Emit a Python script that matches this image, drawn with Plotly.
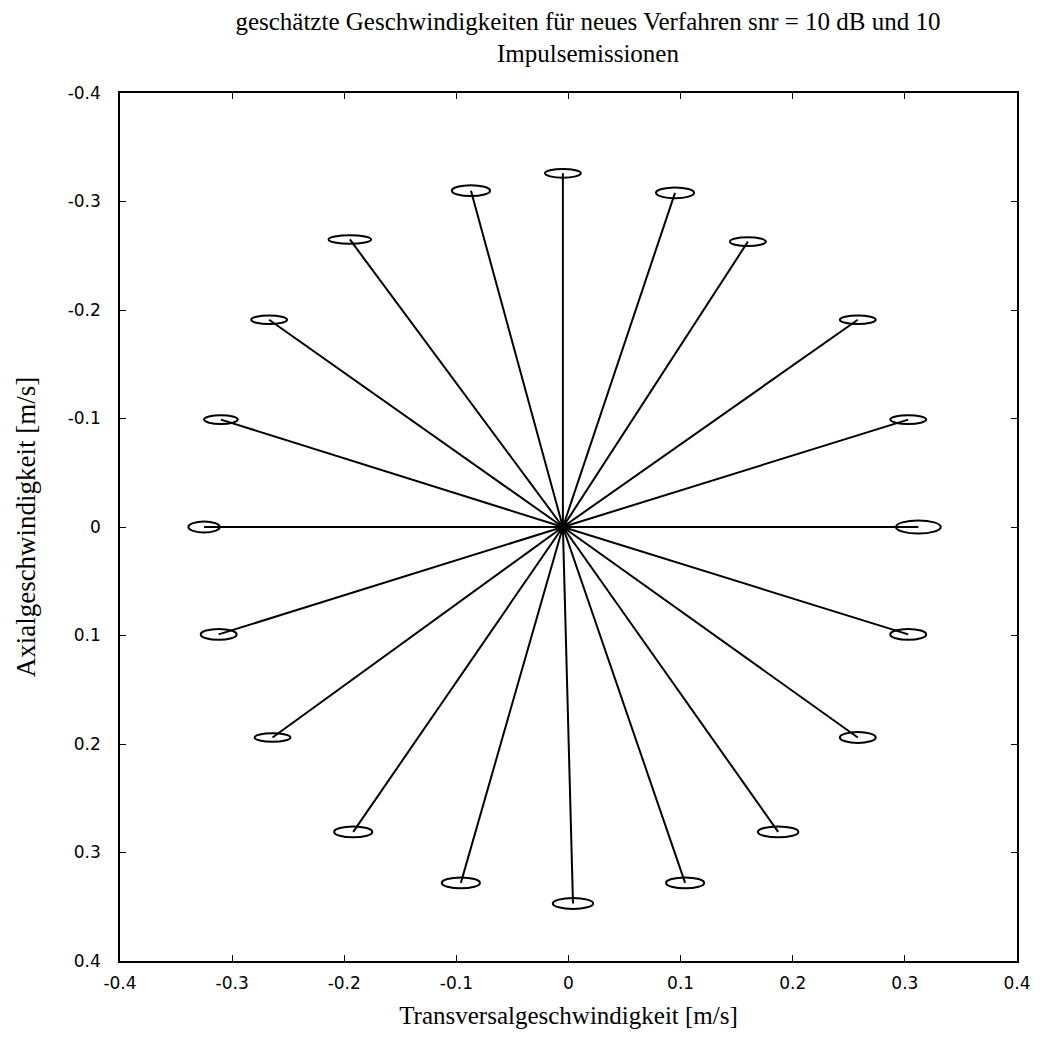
import plotly.graph_objects as go

# estimated end points of the velocity vectors [m/s]
end_x = [-0.005, 0.095, 0.160, 0.258, 0.303, 0.312, 0.303, 0.258, 0.187, 0.104,
         0.004, -0.096, -0.192, -0.264, -0.312, -0.325, -0.310, -0.267, -0.195, -0.087]
end_y = [-0.326, -0.308, -0.263, -0.191, -0.099, 0.000, 0.099, 0.194, 0.281, 0.328,
         0.347, 0.328, 0.281, 0.194, 0.099, 0.000, -0.099, -0.191, -0.265, -0.310]
# semi-axes of the scatter ellipses [m/s]
ell_a = [0.016, 0.017, 0.016, 0.016, 0.016, 0.020, 0.016, 0.016, 0.018, 0.017,
         0.018, 0.017, 0.017, 0.016, 0.016, 0.014, 0.015, 0.016, 0.019, 0.017]
ell_b = [0.004, 0.005, 0.004, 0.004, 0.004, 0.006, 0.005, 0.005, 0.005, 0.005,
         0.005, 0.005, 0.005, 0.004, 0.005, 0.005, 0.004, 0.004, 0.004, 0.005]
origin_x = -0.005
origin_y = 0.0

tick_vals = [-0.4, -0.3, -0.2, -0.1, 0, 0.1, 0.2, 0.3, 0.4]
tick_text = ["-0.4", "-0.3", "-0.2", "-0.1", "0", "0.1", "0.2", "0.3", "0.4"]

SERIF = "Liberation Serif, Times New Roman, serif"
SANS = "DejaVu Sans, Arial, sans-serif"

fig = go.Figure()
for ex, ey in zip(end_x, end_y):
    fig.add_trace(go.Scatter(x=[origin_x, ex], y=[origin_y, ey], mode="lines",
                             line=dict(color="black", width=2), showlegend=False,
                             hoverinfo="skip"))
fig.add_trace(go.Scatter(x=[origin_x], y=[origin_y], mode="markers",
                         marker=dict(color="black", size=11), showlegend=False))

for ex, ey, a, b in zip(end_x, end_y, ell_a, ell_b):
    fig.add_shape(type="circle", xref="x", yref="y",
                  x0=ex - a, x1=ex + a, y0=ey - b, y1=ey + b,
                  line=dict(color="black", width=2))

axis_common = dict(range=[-0.4, 0.4], tickvals=tick_vals, ticktext=tick_text,
                   showgrid=False, zeroline=False, showline=True, mirror="ticks",
                   linecolor="black", linewidth=1.5, ticks="inside", ticklen=6,
                   tickcolor="black",
                   tickfont=dict(family=SANS, size=17, color="black"))

fig.update_layout(
    width=1045, height=1043,
    paper_bgcolor="white", plot_bgcolor="white",
    margin=dict(l=112, r=36, t=85, b=90),
    title=dict(text="geschätzte Geschwindigkeiten für neues Verfahren snr = 10 dB und 10<br>Impulsemissionen",
               x=0.555, xanchor="center", y=0.979, yanchor="top",
               font=dict(family=SERIF, size=25, color="black")),
    xaxis=dict(**axis_common, ticklabelstandoff=6,
               title=dict(text="Transversalgeschwindigkeit [m/s]",
                          font=dict(family=SERIF, size=25, color="black"),
                          standoff=14)),
    yaxis=dict(**axis_common, autorange=False, ticklabelstandoff=14,
               title=dict(text="Axialgeschwindigkeit [m/s]",
                          font=dict(family=SERIF, size=27, color="black"),
                          standoff=24)),
)
fig.update_yaxes(range=[0.4, -0.4])

fig.write_html("out.html")
